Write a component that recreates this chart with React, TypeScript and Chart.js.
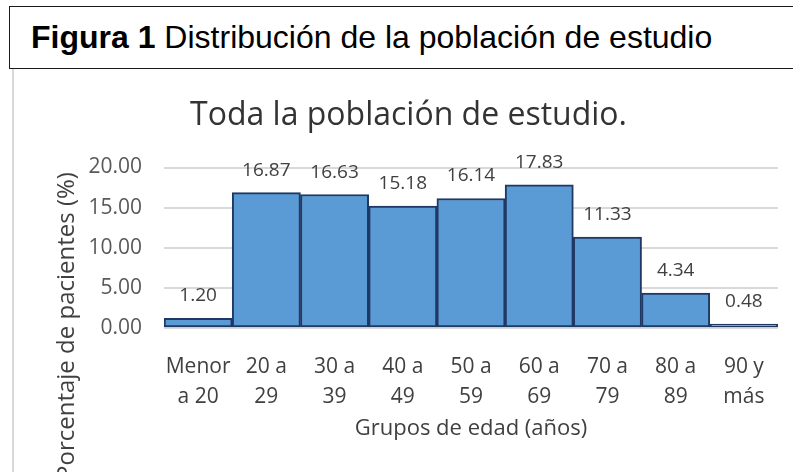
import React, { useEffect, useRef } from "react";
import { Chart, registerables } from "chart.js";

Chart.register(...registerables);

// ---- data ----
const categories: string[][] = [
  ["Menor", "a 20"],
  ["20 a", "29"],
  ["30 a", "39"],
  ["40 a", "49"],
  ["50 a", "59"],
  ["60 a", "69"],
  ["70 a", "79"],
  ["80 a", "89"],
  ["90 y", "más"],
];
const percentages: number[] = [1.2, 16.87, 16.63, 15.18, 16.14, 17.83, 11.33, 4.34, 0.48];
const yTicks: number[] = [0, 5, 10, 15, 20];
const chartTitle = "Toda la población de estudio.";
const xTitle = "Grupos de edad (años)";
const yTitle = "Porcentaje de pacientes (%)";
const figureLabel = "Figura 1";
const figureCaption = "Distribución de la población de estudio";

const FONT = '"Open Sans", "Noto Sans", sans-serif';

const valueLabels = {
  id: "valueLabels",
  afterDatasetsDraw(chart: any) {
    const ctx = chart.ctx;
    const meta = chart.getDatasetMeta(0);
    ctx.save();
    ctx.font = `19px ${FONT}`;
    ctx.fillStyle = "#404040";
    ctx.textAlign = "center";
    ctx.textBaseline = "alphabetic";
    meta.data.forEach((el: any, i: number) => {
      const v = chart.data.datasets[0].data[i] as number;
      ctx.fillText(v.toFixed(2), el.x, el.y - 17);
    });
    ctx.restore();
  },
};

const sideTitle = {
  id: "sideTitle",
  afterDraw(chart: any) {
    const { ctx, chartArea } = chart;
    ctx.save();
    ctx.translate(chartArea.left - 97, chartArea.bottom - 2);
    ctx.rotate(-Math.PI / 2);
    ctx.font = `24px ${FONT}`;
    ctx.fillStyle = "#404040";
    ctx.textAlign = "center";
    ctx.textBaseline = "middle";
    ctx.fillText(yTitle, 0, 0);
    ctx.restore();
  },
};

function BarChart() {
  const ref = useRef<HTMLCanvasElement | null>(null);
  useEffect(() => {
    if (!ref.current) return;
    const chart = new Chart(ref.current, {
      type: "bar",
      data: {
        labels: categories,
        datasets: [
          {
            data: percentages,
            backgroundColor: "#5B9BD5",
            borderColor: "#1F3864",
            borderWidth: 2,
            borderSkipped: false,
            categoryPercentage: 1,
            barPercentage: 1,
          },
        ],
      },
      options: {
        responsive: false,
        animation: false,
        devicePixelRatio: 1,
        layout: { padding: { left: 24, right: 15, top: 0, bottom: 0 } },
        plugins: {
          legend: { display: false },
          tooltip: { enabled: false },
          title: {
            display: true,
            text: chartTitle,
            color: "#333333",
            font: { family: FONT, size: 32, weight: "normal", lineHeight: 1.2 },
            padding: { top: 26.4, bottom: 32.7 },
          },
        },
        scales: {
          x: {
            grid: { display: false },
            border: { display: false },
            ticks: {
              color: "#404040",
              font: { family: FONT, size: 21, lineHeight: "30px" },
              padding: 16,
              maxRotation: 0,
              autoSkip: false,
            },
            title: {
              display: true,
              text: xTitle,
              color: "#404040",
              font: { family: FONT, size: 22, lineHeight: 1.2 },
              padding: { top: 0, bottom: 30 },
            },
            afterFit: (s: any) => {
              s.height = 144;
            },
          },
          y: {
            min: 0,
            max: 20,
            grid: { color: "#d9d9d9", lineWidth: 2, drawTicks: false },
            border: { display: false },
            ticks: {
              color: "#595959",
              font: { family: FONT, size: 21 },
              padding: 22,
              callback: (v: any) => Number(v).toFixed(2),
            },
            afterBuildTicks: (s: any) => {
              s.ticks = yTicks.map((v) => ({ value: v }));
            },
            afterFit: (s: any) => {
              s.width = 125;
            },
          },
        },
      },
      plugins: [valueLabels, sideTitle],
    });
    return () => chart.destroy();
  }, []);
  return (
    <canvas
      ref={ref}
      width={778}
      height={402}
      style={{ position: "absolute", left: 15, top: 70, width: 778, height: 402 }}
    />
  );
}

export default function App() {
  return (
    <div
      style={{
        position: "fixed",
        left: 0,
        top: 0,
        width: 793,
        height: 472,
        overflow: "hidden",
        background: "#ffffff",
      }}
    >
      <div
        style={{
          position: "absolute",
          left: 9,
          top: 6,
          width: 820,
          height: 63,
          boxSizing: "border-box",
          border: "1px solid #1a1a1a",
        }}
      />
      <div
        style={{
          position: "absolute",
          left: 31,
          top: 21,
          whiteSpace: "nowrap",
          fontFamily: '"Liberation Sans", Arial, sans-serif',
          fontSize: 32,
          lineHeight: "32px",
          color: "#000",
        }}
      >
        <b>{figureLabel}</b> {figureCaption}
      </div>
      <div
        style={{
          position: "absolute",
          left: 12,
          top: 69,
          width: 2,
          height: 410,
          background: "#d9d9d9",
        }}
      />
      <BarChart />
    </div>
  );
}
